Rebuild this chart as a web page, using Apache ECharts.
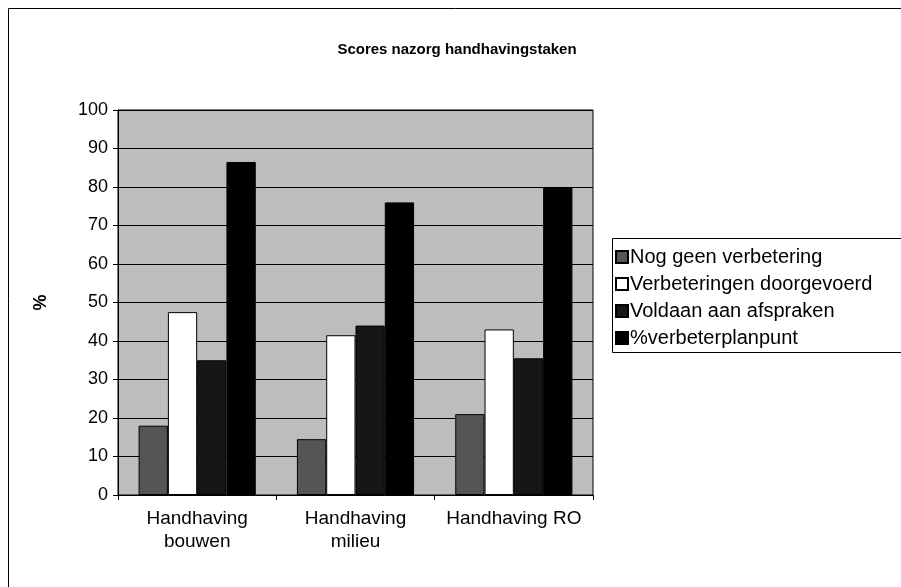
<!DOCTYPE html>
<html><head><meta charset="utf-8">
<script src="https://cdn.jsdelivr.net/npm/echarts@6/dist/echarts.min.js"></script>
<style>html,body{margin:0;padding:0;background:#fff}#c{width:901px;height:587px}</style>
</head><body><div id="c"></div>
<script>
var categories = ['Handhaving\nbouwen', 'Handhaving\nmilieu', 'Handhaving RO'];
var seriesNames = ['Nog geen verbetering', 'Verbeteringen doorgevoerd', 'Voldaan aan afspraken', '%verbeterplanpunt'];
var nogGeen = [18, 14.5, 21];
var doorgevoerd = [47.5, 41.5, 43];
var voldaan = [35, 44, 35.5];
var planpunt = [86.5, 76, 80];
var yTicks = [0, 10, 20, 30, 40, 50, 60, 70, 80, 90, 100];
var colors = ['#555555', '#ffffff', '#161616', '#000000'];
var values = [nogGeen, doorgevoerd, voldaan, planpunt];

var font = '"Liberation Sans", Arial, sans-serif';
var chart = echarts.init(document.getElementById('c'));
chart.setOption({
  animation: false,
  backgroundColor: '#ffffff',
  title: {
    text: 'Scores nazorg handhavingstaken',
    left: 452, top: 37, textAlign: 'center',
    textStyle: {fontFamily: font, fontWeight: 'bold', fontSize: 15, color: '#000'}
  },
  graphic: [
    {type: 'rect', shape: {x: 8.5, y: 8.5, width: 900, height: 600}, style: {fill: 'none', stroke: '#000', lineWidth: 1}, z: -1},
    {type: 'rect', shape: {x: 612.5, y: 238.5, width: 300, height: 114}, style: {fill: '#fff', stroke: '#000', lineWidth: 1}, z: 0}
  ],
  legend: {
    orient: 'vertical', left: 612, top: 247, itemWidth: 12, itemHeight: 12, itemGap: 7,
    icon: 'rect', padding: [0, 0, 0, 3],
    textStyle: {fontFamily: font, fontSize: 20, color: '#000', lineHeight: 20, padding: [0, 0, 0, -3]},
    data: seriesNames, z: 5
  },
  grid: {left: 118, right: 308, top: 110, bottom: 92, show: true, backgroundColor: '#bdbdbd', borderColor: '#000', borderWidth: 1},
  xAxis: {
    type: 'category', data: categories,
    axisLine: {lineStyle: {color: '#000', width: 1}},
    axisTick: {show: true, length: 5, lineStyle: {color: '#000'}},
    axisLabel: {interval: 0, fontFamily: font, fontSize: 19, color: '#000', margin: 12, lineHeight: 23}
  },
  yAxis: {
    type: 'value', min: 0, max: 100, interval: 10,
    name: '%', nameLocation: 'middle', nameGap: 68, nameRotate: 90,
    nameTextStyle: {fontFamily: font, fontSize: 18, fontWeight: 'bold', color: '#000'},
    axisLine: {show: true, lineStyle: {color: '#000'}},
    axisTick: {show: true, length: 5, lineStyle: {color: '#000'}},
    axisLabel: {fontFamily: font, fontSize: 18, color: '#000', margin: 10,
      formatter: function (v) { return yTicks.indexOf(v) >= 0 ? String(v) : ''; }},
    splitLine: {show: true, lineStyle: {color: '#000', width: 1}}
  },
  series: seriesNames.map(function (n, i) {
    return {
      name: n, type: 'bar', data: values[i],
      barGap: '0%', barCategoryGap: '26%',
      itemStyle: {color: colors[i], borderColor: '#000', borderWidth: 1}
    };
  })
});
</script></body></html>
